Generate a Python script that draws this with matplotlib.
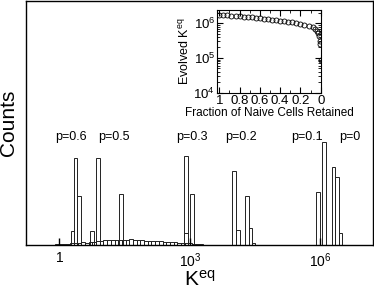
import numpy as np
import matplotlib.pyplot as plt
from matplotlib.ticker import FixedLocator, MultipleLocator, LogLocator, NullFormatter, FuncFormatter

plt.rcParams['font.family'] = ['Liberation Sans', 'DejaVu Sans']
plt.rcParams['mathtext.default'] = 'regular'

# ---- histogram peaks: (left edge, right edge) in log10 K, and counts
p06_edges = [(0.257, 0.333), (0.333, 0.409), (0.409, 0.494)]
p06_counts = [142, 872, 495]
p05_edges = [(0.708, 0.786), (0.846, 0.938), (1.368, 1.453)]
p05_counts = [142, 872, 515]
p03_edges = [(2.862, 2.947), (2.862, 2.947), (3.007, 3.092)]
p03_counts = [898, 122, 515]
p02_edges = [(3.972, 4.057), (4.057, 4.143), (4.271, 4.356), (4.356, 4.432), (4.432, 4.501)]
p02_counts = [748, 155, 495, 175, 25]
p01_edges = [(5.903, 5.989), (6.041, 6.126)]
p01_counts = [532, 1038]
p0_edges = [(6.264, 6.343), (6.343, 6.432), (6.432, 6.501)]
p0_counts = [785, 682, 125]

# broad low distribution
broad_start = -0.35
broad_width = 0.085
broad_counts = [5, 5, 8, 10, 15, 12, 18, 20, 22, 25, 30, 28, 35, 38, 42, 48, 50, 52,
                55, 58, 52, 58, 55, 60, 52, 50, 52, 46, 48, 42, 45, 40, 38, 36, 32, 30,
                28, 25, 22, 20, 15, 12, 10, 8, 5, 3]

# labels: (text, log10 K position)
p_labels = ["p=0.6", "p=0.5", "p=0.3", "p=0.2", "p=0.1", "p=0"]
p_label_pos = [0.257, 1.26, 3.04, 4.166, 5.697, 6.678]
p_label_y = 1085

# ---- inset data
frac = [1.00, 0.96, 0.92, 0.88, 0.84, 0.80, 0.76, 0.72, 0.68, 0.64, 0.60, 0.56, 0.52,
        0.48, 0.44, 0.40, 0.36, 0.32, 0.28, 0.24, 0.20, 0.16, 0.12, 0.08, 0.06, 0.04,
        0.03, 0.02, 0.01, 0.005, 0.0]
logk_evolved = [6.235, 6.23, 6.225, 6.22, 6.21, 6.20, 6.19, 6.18, 6.17, 6.155, 6.14,
                6.13, 6.12, 6.105, 6.09, 6.075, 6.06, 6.045, 6.025, 6.005, 5.985, 5.96,
                5.93, 5.88, 5.84, 5.78, 5.72, 5.62, 5.50, 5.40, 4.95]

fig = plt.figure(figsize=(3.74, 2.94), dpi=100)
ax = fig.add_axes([0.0695, 0.165, 0.927, 0.8316])


def draw_bars(edges, counts):
    left = np.array([10 ** e[0] for e in edges])
    right = np.array([10 ** e[1] for e in edges])
    ax.bar(left, counts, width=right - left, align='edge', fill=False,
           edgecolor='#222222', linewidth=0.7)


b_left = broad_start + broad_width * np.arange(len(broad_counts))
b_edges = [(l, l + broad_width) for l in b_left]
draw_bars(b_edges, broad_counts)
for ed, ct in [(p06_edges, p06_counts), (p05_edges, p05_counts), (p03_edges, p03_counts),
               (p02_edges, p02_counts), (p01_edges, p01_counts), (p0_edges, p0_counts)]:
    draw_bars(ed, ct)

for t, xp in zip(p_labels, p_label_pos):
    ax.text(10 ** xp, p_label_y, t, ha='center', va='center', fontsize=9)

ax.set_xscale('log')
ax.set_xlim(10 ** -0.77, 10 ** 7.2)
ax.set_ylim(0, 2445)
ax.xaxis.set_major_locator(FixedLocator([1, 1e3, 1e6]))
ax.xaxis.set_minor_locator(FixedLocator([]))
ax.set_xticklabels(['1', '$10^3$', '$10^6$'])
ax.tick_params(axis='x', direction='in', length=5, width=1, labelsize=10, pad=4)
ax.set_yticks([])
ax.set_xlabel('$K^{eq}$', fontsize=15, labelpad=0)
ax.set_ylabel('Counts', fontsize=15, labelpad=6)
for s in ax.spines.values():
    s.set_linewidth(1)

# ---- inset
ins = fig.add_axes([0.581, 0.6847, 0.2773, 0.2813])
ins.plot(frac, 10 ** np.array(logk_evolved), 'o', mfc='none', mec='black',
         ms=3.6, mew=0.6, linestyle='none')
ins.set_yscale('log')
ins.set_ylim(1e4, 2.4e6)
ins.set_xlim(1.02, -0.003)
ins.xaxis.set_major_locator(MultipleLocator(0.2))
ins.xaxis.set_minor_locator(MultipleLocator(0.1))
ins.xaxis.set_major_formatter(FuncFormatter(lambda v, p: '%g' % round(v, 2)))
ins.yaxis.set_major_locator(FixedLocator([1e4, 1e5, 1e6]))
ins.yaxis.set_minor_locator(LogLocator(base=10, subs=np.arange(2, 10)))
ins.yaxis.set_minor_formatter(NullFormatter())
ins.set_yticklabels(['$10^4$', '$10^5$', '$10^6$'])
ins.tick_params(which='both', direction='in', top=True, right=True, labelsize=9.5, pad=1.5)
ins.tick_params(which='major', length=4, width=0.8)
ins.tick_params(which='minor', length=2, width=0.6)
ins.set_xlabel('Fraction of Naive Cells Retained', fontsize=8.5, labelpad=0)
ins.set_ylabel('Evolved $K^{eq}$', fontsize=9, labelpad=1)
for s in ins.spines.values():
    s.set_linewidth(0.8)

fig.savefig('out.png', dpi=100)
